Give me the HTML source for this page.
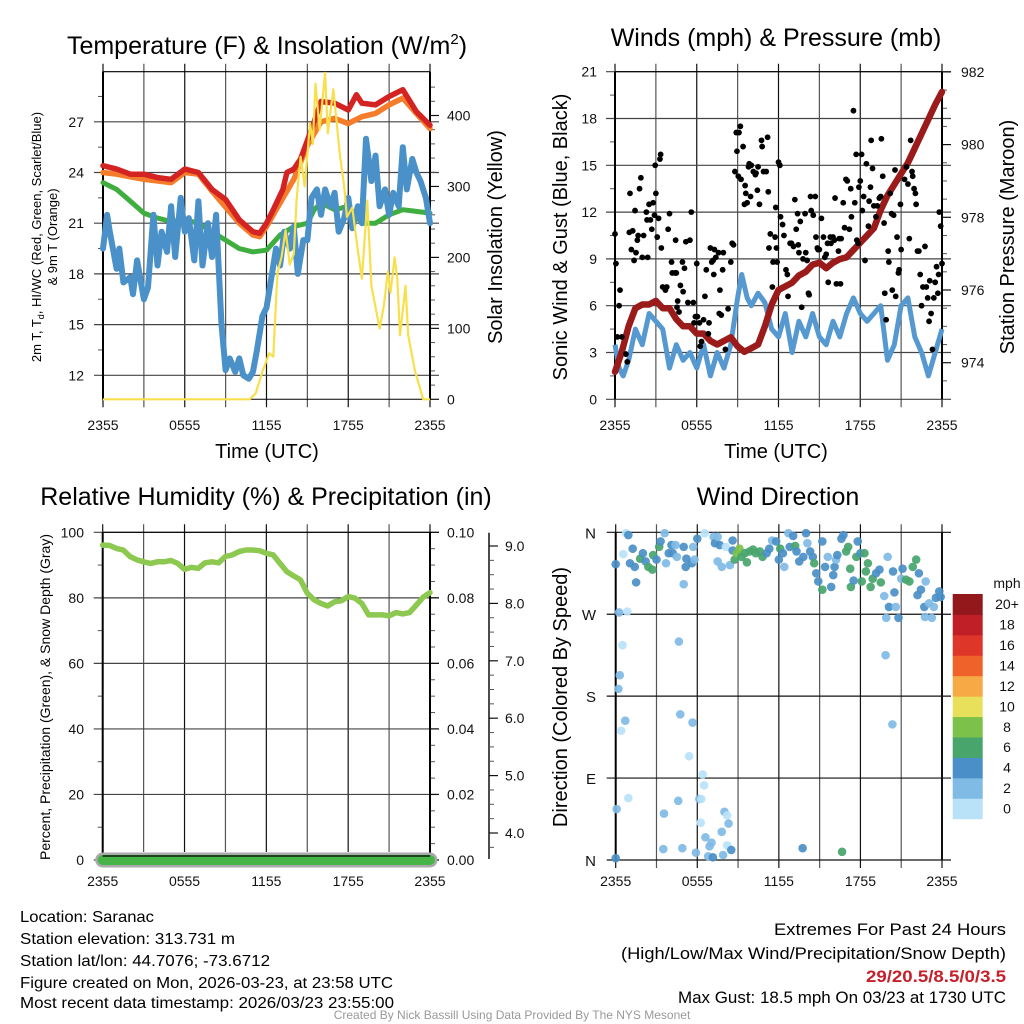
<!DOCTYPE html>
<html><head><meta charset="utf-8"><title>Mesonet Saranac</title>
<style>
html,body{margin:0;padding:0;background:#fff;}
svg{display:block;font-family:"Liberation Sans",Arial,sans-serif;}
</style></head>
<body>
<svg id="fig" width="1024" height="1024" viewBox="0 0 1024 1024" xmlns="http://www.w3.org/2000/svg">
<rect x="0" y="0" width="1024" height="1024" fill="#fff"/>
<g id="p1"></g>
<g id="p2"></g>
<g id="p3"></g>
<g id="p4"></g>

<text x="267" y="54" font-size="25" text-anchor="middle" fill="#000">Temperature (F) &amp; Insolation (W/m<tspan font-size="15" dy="-10">2</tspan><tspan dy="10">)</tspan></text>
<text x="776" y="46" font-size="25" text-anchor="middle" fill="#000">Winds (mph) &amp; Pressure (mb)</text>
<text x="266" y="505" font-size="25" text-anchor="middle" fill="#000">Relative Humidity (%) &amp; Precipitation (in)</text>
<text x="778" y="505" font-size="25" text-anchor="middle" fill="#000">Wind Direction</text>

<text x="267" y="458" font-size="20" text-anchor="middle">Time (UTC)</text>
<text x="776" y="458" font-size="20" text-anchor="middle">Time (UTC)</text>

<text transform="translate(41,237) rotate(-90)" font-size="13" text-anchor="middle">2m T, T<tspan font-size="9" dy="3">d</tspan><tspan dy="-3">, HI/WC (Red, Green, Scarlet/Blue)</tspan></text>
<text transform="translate(57,237) rotate(-90)" font-size="13" text-anchor="middle">&amp; 9m T (Orange)</text>
<text transform="translate(502,237) rotate(-90)" font-size="20" text-anchor="middle">Solar Insolation (Yellow)</text>
<text transform="translate(567,237) rotate(-90)" font-size="20" text-anchor="middle">Sonic Wind &amp; Gust (Blue, Black)</text>
<text transform="translate(1014,237) rotate(-90)" font-size="20" text-anchor="middle">Station Pressure (Maroon)</text>
<text transform="translate(50,697) rotate(-90)" font-size="14" text-anchor="middle">Percent, Precipitation (Green), &amp; Snow Depth (Gray)</text>
<text transform="translate(567,697) rotate(-90)" font-size="20" text-anchor="middle">Direction (Colored By Speed)</text>

<g font-size="16" fill="#000">
<text x="20" y="922" textLength="134" lengthAdjust="spacingAndGlyphs">Location: Saranac</text>
<text x="20" y="944" textLength="215" lengthAdjust="spacingAndGlyphs">Station elevation: 313.731 m</text>
<text x="20" y="966" textLength="250" lengthAdjust="spacingAndGlyphs">Station lat/lon: 44.7076; -73.6712</text>
<text x="20" y="988" textLength="373" lengthAdjust="spacingAndGlyphs">Figure created on Mon, 2026-03-23, at 23:58 UTC</text>
<text x="20" y="1008" textLength="374" lengthAdjust="spacingAndGlyphs">Most recent data timestamp: 2026/03/23 23:55:00</text>
</g>
<g font-size="16.5" text-anchor="end">
<text x="1006" y="935" textLength="232" lengthAdjust="spacingAndGlyphs">Extremes For Past 24 Hours</text>
<text x="1006" y="959" textLength="385" lengthAdjust="spacingAndGlyphs">(High/Low/Max Wind/Precipitation/Snow Depth)</text>
<text x="1006" y="982" fill="#c8202a" font-weight="bold" textLength="140" lengthAdjust="spacingAndGlyphs">29/20.5/8.5/0/3.5</text>
<text x="1006" y="1003" textLength="328" lengthAdjust="spacingAndGlyphs">Max Gust: 18.5 mph On 03/23 at 1730 UTC</text>
</g>
<text x="512" y="1019" font-size="12" fill="#999" text-anchor="middle">Created By Nick Bassill Using Data Provided By The NYS Mesonet</text>
</svg>
<script>
// ---------- DATA ----------
const timeTickLabels = ["2355","0555","1155","1755","2355"];
const tempTicks = [12,15,18,21,24,27];
const insolTicks = [0,100,200,300,400];
const windTicks = [0,3,6,9,12,15,18,21];
const presTicks = [974,976,978,980,982];
const rhTicks = [0,20,40,60,80,100];
const precipTicks = ["0.00","0.02","0.04","0.06","0.08","0.10"];
const snowTicks = [4,5,6,7,8,9];
const dirTicks = ["N","E","S","W","N"];
const speedBins = ["0","2","4","6","8","10","12","14","16","18","20+"];
const speedColors = ["#b9e2f8","#80bbe5","#4a8fc7","#48a56c","#7cc14a","#e8e05a","#f6a945","#ef632b","#de3628","#c01f27","#92181b"];

const redT = [[0,24.4],[1,24.2],[2,23.9],[3,23.9],[4,23.7],[5,23.6],[6,24.2],[7,24.0],[8,23.0],[9,22.4],[10,21.2],[11,20.5],[11.5,20.4],[12,21.0],[12.5,21.8],[13.2,23.0],[13.5,24.0],[14,24.2],[14.5,24.8],[15,25.9],[15.5,27.0],[16,28.2],[17,28.1],[18,27.7],[18.6,28.6],[19,28.1],[20,28.0],[21,28.5],[22,28.9],[23,27.6],[24,26.8]];
const orangeT = [[0,24.0],[1,23.9],[3,23.6],[5,23.4],[6,24.0],[7,23.9],[8,22.9],[10,21.0],[11,20.3],[11.5,20.2],[12,20.8],[13,22.2],[14,23.6],[15,25.6],[16,27.0],[17,27.2],[18,26.9],[19,27.3],[20,27.5],[21,28.0],[22,28.4],[23,27.5],[24,26.6]];
const greenTd = [[0,23.4],[1,23.0],[2,22.3],[3,21.6],[4,21.3],[5,21.1],[6,21.2],[7,21.0],[8,20.5],[9,20.0],[10,19.5],[11,19.3],[12,19.4],[13,20.3],[14,20.8],[15,21.0],[15.5,21.8],[16,22.2],[17,21.8],[18,22.0],[19,21.0],[20,21.0],[21,21.5],[22,21.8],[23,21.7],[24,21.6]];
const blueWC = [[0,19.5],[0.3,21.5],[0.5,20.5],[1,18.3],[1.2,19.5],[1.5,17.5],[2,17.8],[2.2,16.8],[2.5,18.8],[3,16.5],[3.3,17.2],[3.7,21.5],[4,18.5],[4.3,20.5],[4.7,19.3],[5,22.0],[5.3,19.0],[5.7,22.5],[6,20.5],[6.3,21.3],[6.7,18.8],[7,22.3],[7.3,18.5],[7.7,21.0],[8,19.0],[8.3,21.5],[8.7,15.0],[9,12.3],[9.3,13.0],[9.7,12.2],[10,13.0],[10.3,12.0],[10.7,11.8],[11,12.2],[11.3,13.5],[11.7,15.5],[12,16.0],[12.3,17.5],[12.7,19.5],[13,18.5],[13.3,20.5],[13.7,19.5],[14,20.8],[14.3,18.0],[14.7,20.0],[15,20.0],[15.3,22.5],[15.7,23.0],[16,21.5],[16.3,23.0],[16.7,22.0],[17,22.8],[17.3,20.5],[17.7,21.3],[18,22.5],[18.3,20.7],[18.7,22.0],[19,21.0],[19.3,26.0],[19.7,23.5],[20,25.0],[20.3,22.0],[20.7,23.0],[21,21.5],[21.3,22.8],[21.7,22.0],[22,25.5],[22.3,23.0],[22.7,24.8],[23,24.0],[23.3,23.5],[23.7,22.5],[24,21.0]];
const insol = [[0,0],[10.75,0],[11.2,8],[11.7,39],[12.2,65],[12.5,60],[12.8,178],[13.1,200],[13.4,238],[13.7,190],[14.0,205],[14.2,280],[14.5,342],[14.8,300],[15.2,389],[15.4,360],[15.6,445],[15.9,380],[16.3,460],[16.5,375],[16.9,437],[17.1,400],[17.4,342],[17.7,300],[17.9,257],[18.3,270],[18.7,210],[19.0,170],[19.4,280],[19.7,160],[20.0,130],[20.3,100],[20.6,130],[20.9,180],[21.1,150],[21.4,200],[21.6,170],[21.8,90],[22.2,160],[22.4,90],[22.9,40],[23.5,0],[24,0]];

const pressure = [[0,973.75],[0.5,974.3],[1,975.0],[1.5,975.5],[2,975.6],[2.5,975.6],[3,975.7],[3.5,975.5],[4,975.5],[4.5,975.2],[5,975.0],[5.5,975.0],[6,974.8],[6.5,974.8],[7,974.6],[7.5,974.5],[8,974.6],[8.5,974.7],[9,974.45],[9.5,974.3],[10,974.4],[10.5,974.5],[11,975.0],[11.5,975.6],[12,976.0],[12.5,976.1],[13,976.2],[13.5,976.4],[14,976.5],[14.5,976.7],[15,976.75],[15.5,976.6],[16,976.75],[16.5,976.85],[17,976.9],[17.5,977.1],[18,977.3],[18.5,977.5],[19,977.7],[19.5,978.2],[20,978.6],[20.5,978.9],[21,979.2],[21.5,979.5],[22,979.9],[22.5,980.3],[23,980.7],[23.5,981.1],[24,981.45]];
const windSpd = [[0,3.5],[0.3,2.0],[0.6,1.5],[1,2.5],[1.5,4.5],[2,3.5],[2.5,5.5],[3,5.0],[3.5,4.5],[4,2.0],[4.5,3.5],[5,2.5],[5.5,3.0],[6,2.0],[6.5,3.5],[7,1.5],[7.5,3.0],[8,2.0],[8.5,3.5],[9,6.5],[9.3,8.0],[9.7,6.5],[10,6.0],[10.5,6.8],[11,6.2],[11.5,4.5],[12,4.0],[12.5,5.5],[13,3.0],[13.5,5.0],[14,4.0],[14.5,5.5],[15,4.0],[15.5,3.5],[16,5.0],[16.5,4.0],[17,5.5],[17.5,6.5],[18,5.5],[18.5,5.0],[19,5.5],[19.5,6.0],[20,2.5],[20.5,3.5],[21,6.0],[21.5,6.5],[22,4.0],[22.5,3.0],[23,1.5],[23.5,3.0],[24,4.5]];
const gusts = [[0,10.6],[0.07,8.7],[0.37,7.0],[0.3,6.0],[0.17,4.0],[0.5,4.0],[0.8,2.9],[0.9,2.4],[1.1,13.2],[1.05,10.7],[1.3,10.8],[1.47,12.1],[1.2,9.6],[1.4,8.9],[1.54,9.4],[1.64,10.2],[1.8,13.5],[1.9,14.2],[1.7,10.5],[2.1,10.5],[2.0,9.1],[2.3,12.0],[2.4,9.1],[2.35,11.5],[2.5,12.5],[2.6,11.5],[2.7,10.9],[2.8,12.6],[2.9,11.8],[2.95,15.0],[3.0,13.2],[3.1,10.4],[3.2,11.6],[3.3,15.4],[3.35,15.7],[3.4,9.7],[3.5,7.2],[3.7,7.0],[3.8,7.2],[3.9,10.9],[4.0,11.9],[4.15,8.8],[4.2,8.1],[4.4,8.1],[4.45,10.2],[4.5,8.1],[4.55,5.9],[4.6,6.3],[4.7,5.6],[4.8,7.3],[4.95,8.8],[5.0,6.9],[5.1,8.4],[5.2,10.1],[5.35,6.2],[5.5,10.2],[5.6,12.0],[5.75,6.2],[5.8,4.9],[5.9,5.3],[6.0,8.7],[6.05,5.3],[6.2,4.9],[6.25,3.4],[6.35,3.7],[6.5,5.1],[6.6,6.6],[6.7,8.3],[6.85,4.2],[6.9,4.9],[7.0,9.7],[7.1,8.8],[7.2,8.9],[7.25,8.0],[7.3,9.6],[7.4,9.1],[7.6,9.4],[7.65,5.5],[7.7,7.0],[7.8,5.4],[7.9,8.3],[7.95,9.4],[8.1,3.2],[8.3,5.8],[8.5,8.8],[8.6,10.0],[8.7,9.9],[8.8,14.6],[8.9,17.1],[8.95,15.9],[9.05,14.3],[9.1,17.1],[9.2,17.5],[9.25,14.1],[9.4,16.2],[9.5,12.5],[9.55,13.7],[9.6,13.2],[9.7,12.6],[9.8,14.9],[9.85,15.1],[9.95,13.0],[10.0,15.0],[10.15,14.6],[10.3,14.4],[10.35,14.5],[10.45,13.4],[10.5,14.9],[10.6,12.5],[10.75,16.6],[10.8,16.2],[10.9,14.6],[11.1,14.6],[11.2,16.8],[11.25,13.3],[11.3,9.7],[11.4,10.6],[11.55,7.2],[11.6,8.8],[11.75,10.4],[11.8,12.3],[11.85,9.7],[11.9,8.8],[12.0,15.2],[12.1,15.0],[12.15,11.7],[12.3,11.2],[12.4,10.5],[12.55,8.3],[12.65,8.0],[12.7,6.6],[12.85,10.0],[12.95,10.0],[13.1,9.8],[13.2,12.8],[13.3,10.9],[13.4,11.9],[13.45,9.9],[13.5,9.4],[13.6,11.4],[13.7,5.9],[13.8,9.0],[13.95,11.9],[14.0,9.4],[14.1,8.9],[14.2,6.8],[14.25,6.7],[14.35,13.0],[14.4,12.1],[14.55,11.8],[14.7,13.0],[14.75,10.4],[14.85,9.7],[14.9,9.6],[15.0,9.6],[15.15,11.6],[15.3,10.4],[15.4,9.1],[15.5,9.3],[15.6,10.0],[15.65,7.5],[15.8,10.4],[15.85,10.0],[16.0,10.4],[16.1,10.2],[16.15,12.9],[16.25,7.4],[16.4,9.5],[16.45,10.3],[16.55,7.4],[16.6,10.3],[16.75,12.6],[16.85,11.0],[16.95,14.1],[17.05,14.0],[17.2,10.9],[17.3,13.5],[17.35,11.7],[17.5,18.5],[17.6,12.6],[17.7,15.7],[17.75,10.2],[17.85,10.0],[17.9,13.6],[18.0,14.0],[18.1,15.7],[18.15,12.1],[18.25,13.0],[18.35,8.9],[18.45,15.1],[18.6,11.1],[18.65,12.7],[18.75,13.6],[18.8,16.6],[18.9,14.8],[19.0,12.4],[19.15,11.7],[19.25,12.4],[19.4,12.9],[19.5,13.0],[19.55,16.7],[19.65,14.3],[19.75,11.3],[19.8,6.8],[19.9,5.1],[20.05,9.5],[20.1,8.8],[20.2,13.2],[20.3,11.9],[20.35,7.0],[20.45,11.8],[20.55,14.7],[20.6,6.6],[20.7,10.4],[20.8,8.1],[20.85,8.3],[20.95,12.5],[21.0,9.6],[21.25,14.1],[21.4,14.9],[21.5,13.8],[21.6,10.3],[21.7,16.6],[21.8,14.6],[21.85,14.3],[21.95,13.5],[22.05,13.2],[22.1,12.5],[22.2,9.5],[22.3,9.5],[22.4,8.0],[22.5,6.0],[22.6,7.2],[22.75,9.8],[22.85,7.2],[22.95,6.5],[23.05,5.0],[23.1,7.6],[23.2,5.5],[23.3,3.2],[23.4,6.5],[23.5,7.5],[23.6,8.5],[23.7,6.8],[23.75,8.0],[23.8,12.0],[23.9,11.1],[24.0,8.7]];

const rh = [[0,96.1],[0.5,96],[1,95.1],[1.5,94.6],[2,92.6],[2.5,91.6],[3,91],[3.5,90.5],[4,91],[4.5,91],[5,91.4],[5.5,90.5],[6,88.7],[6.5,89.3],[7,89],[7.5,90.7],[8,91],[8.5,90.7],[9,92.6],[9.5,93.1],[10,94.1],[10.5,94.6],[11,94.6],[11.5,94.4],[12,93.6],[12.5,93.1],[13,90.5],[13.5,88],[14,86.7],[14.5,85.5],[15,81.4],[15.5,79.4],[16,78.3],[16.5,77.5],[17,78.8],[17.5,79.1],[18,80.4],[18.5,79.9],[19,78.3],[19.5,74.8],[20,74.8],[20.5,74.8],[21,74.5],[21.5,75.5],[22,75.1],[22.5,75.5],[23,77.8],[23.5,80.2],[24,81.6]];
const precip = [[0,0],[24,0]];
const snowDepth = [[0,3.5],[24,3.5]];

const dirObs = [[0,325,4.5],[0.56,336,1],[0.76,359,1],[0.93,357,4.5],[1.25,342,4.5],[1.05,326,4.5],[1.4,322,4.5],[1.5,305,4.5],[1.8,331,7],[2.0,337,4.5],[2.2,328,4.5],[2.4,322,7],[2.7,319,7],[2.75,335,7],[3.0,330,4.5],[3.2,344,7],[3.3,350,4.5],[3.6,359,2.5],[3.7,326,2.5],[3.9,337,4.5],[4.1,346,4.5],[4.2,337,4.5],[4.4,346,2.5],[4.5,333,2.5],[5.0,344,4.5],[5.0,303,2.5],[5.2,331,4.5],[5.15,322,4.5],[5.6,326,4.5],[5.7,344,2.5],[5.8,330,2.5],[6.0,353,4.5],[6.55,359,1],[7.2,355,2.5],[7.3,348,4.5],[7.5,355,2.5],[7.65,346,4.5],[7.5,328,2.5],[7.8,322,2.5],[8.1,344,1],[8.4,324,2.5],[8.6,351,4.5],[8.6,340,4.5],[8.75,330,7],[8.9,337,9],[9.1,342,9],[9.25,333,7],[9.5,337,7],[9.65,327,7],[9.85,339,7],[10.1,341,7],[10.3,337,7],[10.6,339,7],[10.8,333,7],[11.1,337,4.5],[11.3,342,4.5],[11.5,351,2.5],[11.8,350,4.5],[12.0,330,4.5],[12.1,342,7],[12.3,337,4.5],[12.4,322,2.5],[12.7,359,2.5],[12.8,344,4.5],[13.05,356,4.5],[13.2,345,7],[13.3,339,4.5],[13.5,328,4.5],[13.8,333,4.5],[14.0,359,4.5],[14.1,348,2.5],[14.3,339,4.5],[14.5,333,4.5],[14.6,326,7],[14.75,315,4.5],[14.9,306,4.5],[15.2,297,7],[15.2,350,4.5],[15.4,322,4.5],[15.6,333,2.5],[15.85,300,4.5],[16.0,313,4.5],[16.1,322,4.5],[16.2,330,2.5],[16.3,335,4.5],[16.6,353,4.5],[16.75,357,4.5],[16.95,339,7],[17.1,344,7],[17.25,320,7],[17.3,300,7],[17.5,307,4.5],[17.7,333,7],[17.8,350,4.5],[18.0,337,4.5],[18.1,306,7],[18.3,337,7],[18.4,317,7],[18.55,326,7],[18.75,300,7],[18.9,309,7],[19.15,315,4.5],[19.4,319,4.5],[19.5,305,7],[19.75,290,2.5],[19.9,266,2.5],[19.85,225,2.5],[20.0,333,2.5],[20.1,278,4.5],[20.4,317,4.5],[20.35,149,2.5],[20.5,294,4.5],[20.6,278,2.5],[20.8,266,4.5],[21.0,309,2.5],[21.1,320,4.5],[21.35,308,7],[21.6,306,7],[21.85,322,7],[22.1,330,7],[22.2,291,4.5],[22.3,315,4.5],[22.45,297,4.5],[22.7,278,4.5],[22.8,306,2.5],[22.75,267,2.5],[23.05,282,2.5],[23.25,266,2.5],[23.4,278,2.5],[23.55,288,4.5],[23.8,295,4.5],[23.9,289,4.5],[0.25,272,2.5],[0.85,273,1],[0.5,236,1],[0.3,203,2.5],[0.2,188,2.5],[0.7,153,2.5],[0.4,142,1],[0.93,68,1],[0.07,56,2.5],[0,2,4.5],[4.65,240,2.5],[4.75,160,2.5],[5.65,151,2.5],[5.4,114,1],[6.4,94,1],[6.5,82,1],[4.6,65,2.5],[6.15,67,2.5],[6.3,67,1],[3.55,51,2.5],[6.25,41,1],[8.0,53,2.5],[8.2,49,1],[8.3,40,2.5],[7.8,31,2.5],[6.6,25,2.5],[7.05,19,2.5],[6.9,15,2.5],[6.8,4,2.5],[7.15,3,4.5],[7.9,5.5,2.5],[8.2,16,1],[8.5,11,4.5],[5.9,8,2.5],[4.9,13,2.5],[3.5,12,2.5],[13.75,13,4.5],[16.65,9,7]];

// ---------- HELPERS ----------
const NS = "http://www.w3.org/2000/svg";
function mk(parent, tag, attrs){ const e=document.createElementNS(NS,tag); for(const k in attrs) e.setAttribute(k,attrs[k]); parent.appendChild(e); return e; }
function pathD(pts, fx, fy){ return pts.map((p,i)=>(i?"L":"M")+fx(p[0]).toFixed(1)+","+fy(p[1]).toFixed(1)).join(""); }
function binColor(s){ let i=Math.floor(s/2); if(i<0)i=0; if(i>10)i=10; return speedColors[i]; }

function frame(g, X0, X1, Y0, Y1, opts){
  for(let h=0; h<=24; h+=3){
    const x = X0 + h*(X1-X0)/24;
    const vl = mk(g,"line",{x1:x,x2:x,y1:Y0-8,y2:(opts.vBottom||Y1)+((opts.vBottom)?0:8),stroke:(h%6===0)?"#111":"#555","stroke-width":1.2});
    
    
  }
  for(let i=0;i<timeTickLabels.length;i++){
    const x = X0 + i*6*(X1-X0)/24;
    const tl = mk(g,"text",{x:x,y:opts.labelY,"font-size":14,"text-anchor":"middle",fill:"#111"});
    tl.textContent = timeTickLabels[i];
    
    
  }
}
function hgrid(g, X0, X1, y, dark){
  const l = mk(g,"line",{x1:X0-9,x2:X1+9,y1:y,y2:y,stroke:dark?"#111":"#444","stroke-width":1.2});
  
  
}
function lab(g, x, y, txt, anchor, name){
  const t = mk(g,"text",{x:x,y:y+5,"font-size":14,"text-anchor":anchor,fill:"#111"});
  t.textContent = txt;
  
  
}
function minor(g, x, y, dir){ mk(g,"line",{x1:x,x2:x+dir*5,y1:y,y2:y,stroke:"#555","stroke-width":1}); }
function border(g,X0,X1,Y0,Y1){
  mk(g,"line",{x1:X0,x2:X0,y1:Y0,y2:Y1,stroke:"#000","stroke-width":2});
  mk(g,"line",{x1:X1,x2:X1,y1:Y0,y2:Y1,stroke:"#000","stroke-width":2});
  mk(g,"line",{x1:X0,x2:X1,y1:Y0,y2:Y0,stroke:"#000","stroke-width":1.2});
}

// ---------- PANEL 1 ----------
(function(){
  const g=document.getElementById("p1");
  const X0=103,X1=430,Y0=71.7,Y1=399.3;
  const tx=t=>X0+t*(X1-X0)/24, ty=v=>375.3-(v-12)*16.9, ti=s=>399.3-s*0.7095;
  frame(g,X0,X1,Y0,Y1,{labelY:430});
  tempTicks.forEach(v=>{hgrid(g,X0,X1,ty(v),false); lab(g,84,ty(v),String(v),"end","temp-tick-label");});
  [10.5,13.5,16.5,19.5,22.5,25.5,28.5].forEach(v=>{ if(ty(v)<Y1) minor(g,X0,ty(v),-1); });
  insolTicks.forEach(v=>{ mk(g,"line",{x1:X1,x2:X1+9,y1:ti(v),y2:ti(v),stroke:"#111","stroke-width":1.2}); lab(g,447,ti(v),String(v),"start","insolation-tick-label");});
  for(let s=20;s<460;s+=20){ if(s%100) minor(g,X1,ti(s),1); }
  mk(g,"line",{x1:X0,x2:X1,y1:Y1,y2:Y1,stroke:"#000","stroke-width":1});
  border(g,X0,X1,Y0,Y1);
  const series=[[greenTd,"#3fae3f",5,"dewpoint-line"],[orangeT,"#f47c2a",5.5,"9m-temperature-line"],[redT,"#d42323",5.5,"2m-temperature-line"],[blueWC,"#4a90c9",6,"wind-chill-line"]];
  series.forEach(s=>{ const p=mk(g,"path",{d:pathD(s[0],tx,ty),fill:"none",stroke:s[1],"stroke-width":s[2],"stroke-linejoin":"round","stroke-linecap":"round"});
    
     });
  const y=mk(g,"path",{d:pathD(insol,tx,ti),fill:"none",stroke:"#f7e04b","stroke-width":2.2,"stroke-linejoin":"round"});
  
  
})();

// ---------- PANEL 2 ----------
(function(){
  const g=document.getElementById("p2");
  const X0=615,X1=942,Y0=71.7,Y1=399.3;
  const tx=t=>X0+t*(X1-X0)/24, wy=v=>399.3-v*15.6, py=p=>362.7-(p-974)*36.35;
  frame(g,X0,X1,Y0,Y1,{labelY:430});
  windTicks.forEach(v=>{hgrid(g,X0,X1,wy(v),false); lab(g,597,wy(v),String(v),"end","wind-tick-label");});
  for(let v=1.5;v<21;v+=3) minor(g,X0,wy(v),-1);
  presTicks.forEach(v=>{ mk(g,"line",{x1:X1,x2:X1+9,y1:py(v),y2:py(v),stroke:"#111","stroke-width":1.2}); lab(g,961,py(v),String(v),"start","pressure-tick-label");});
  for(let p=973.5;p<982;p+=0.5){ if(p%2) minor(g,X1,py(p),1); }
  border(g,X0,X1,Y0,Y1);
  const w=mk(g,"path",{d:pathD(windSpd,tx,wy),fill:"none",stroke:"#5599d0","stroke-width":5,"stroke-linejoin":"round"});
  
  
  const p=mk(g,"path",{d:pathD(pressure,tx,py),fill:"none",stroke:"#9b1b1b","stroke-width":6.5,"stroke-linejoin":"round","stroke-linecap":"round"});
  
  
  gusts.forEach(d=>{ const c=mk(g,"circle",{cx:tx(d[0]),cy:wy(d[1]),r:2.9,fill:"#000"});
    
     });
})();

// ---------- PANEL 3 ----------
(function(){
  const g=document.getElementById("p3");
  const X0=102.7,X1=430,Y0=532.3,Y1=860;
  const tx=t=>X0+t*(X1-X0)/24, ry=r=>860-r*3.277, pry=p=>860-p*3277, sy=s=>833-(s-4)*57.4;
  frame(g,X0,X1,Y0,Y1,{labelY:886,vBottom:852});
  rhTicks.forEach(v=>{hgrid(g,X0,X1,ry(v),false); lab(g,84,ry(v),String(v),"end","humidity-tick-label");});
  for(let v=10;v<100;v+=20) minor(g,X0,ry(v),-1);
  precipTicks.forEach(s=>{ const v=parseFloat(s); mk(g,"line",{x1:X1,x2:X1+9,y1:pry(v),y2:pry(v),stroke:"#111","stroke-width":1.2}); lab(g,447,pry(v),s,"start","precip-tick-label");});
  for(let v=0.005;v<0.1;v+=0.005){ if(Math.abs(v/0.02-Math.round(v/0.02))>0.01) minor(g,X1,pry(v),1); }
  mk(g,"line",{x1:489,x2:489,y1:532.7,y2:859,stroke:"#111","stroke-width":1.5});
  snowTicks.forEach(v=>{ mk(g,"line",{x1:489,x2:498,y1:sy(v),y2:sy(v),stroke:"#111","stroke-width":1.2}); lab(g,505,sy(v),v.toFixed(1),"start","snow-tick-label");});
  for(let v=3.75;v<9.2;v+=0.25){ if(Math.abs(v-Math.round(v))>0.01) minor(g,489,sy(v),1); }
  border(g,X0,X1,Y0,Y1);
  const s=mk(g,"path",{d:pathD(snowDepth,tx,v=>Y1),fill:"none",stroke:"#aaa","stroke-width":15,"stroke-linecap":"round"});
  
  
  const pr=mk(g,"path",{d:pathD(precip,tx,pry),fill:"none",stroke:"#46b446","stroke-width":10,"stroke-linecap":"round"});
  
  
  mk(g,"line",{x1:X0,x2:X1,y1:856,y2:856,stroke:"#000","stroke-width":1.2});
  const r=mk(g,"path",{d:pathD(rh,tx,ry),fill:"none",stroke:"#8dc850","stroke-width":5.5,"stroke-linejoin":"round","stroke-linecap":"round"});
  
  
})();

// ---------- PANEL 4 ----------
(function(){
  const g=document.getElementById("p4");
  const X0=615.7,X1=942,Y0=532.3,Y1=860;
  const tx=t=>X0+t*(X1-X0)/24, dy=d=>860-d/360*327.7;
  frame(g,X0,X1,Y0,Y1,{labelY:886});
  dirTicks.forEach((s,i)=>{ const d=i*90; hgrid(g,X0,X1,dy(d),true);
    const t=mk(g,"text",{x:596,y:dy(d)+6,"font-size":15,"text-anchor":"end",fill:"#111"}); t.textContent=s;
    
     });
  mk(g,"line",{x1:X0,x2:X0,y1:Y0,y2:Y1,stroke:"#000","stroke-width":2});
  mk(g,"line",{x1:X1,x2:X1,y1:Y0,y2:Y1,stroke:"#111","stroke-width":2});
  dirObs.forEach(d=>{ const c=mk(g,"circle",{cx:tx(d[0]),cy:dy(d[1]),r:4.3,fill:binColor(d[2]),"fill-opacity":0.92});
    
     });
  const cb=mk(g,"g",{});
  
  
  const bx=952.7,bw=30,top=594,bh=(818.7-594)/11;
  for(let i=0;i<speedBins.length;i++){
    const yy=top+(10-i)*bh;
    const r=mk(cb,"rect",{x:bx,y:yy,width:bw,height:bh+0.5,fill:speedColors[i]});
    
    
    const t=mk(cb,"text",{x:1007,y:yy+bh/2+5,"font-size":14,"text-anchor":"middle",fill:"#111"}); t.textContent=speedBins[i];
    
    
  }
  const u=mk(cb,"text",{x:1007,y:588,"font-size":14,"text-anchor":"middle",fill:"#111"}); u.textContent="mph";
  
  
})();
</script>
</body></html>
